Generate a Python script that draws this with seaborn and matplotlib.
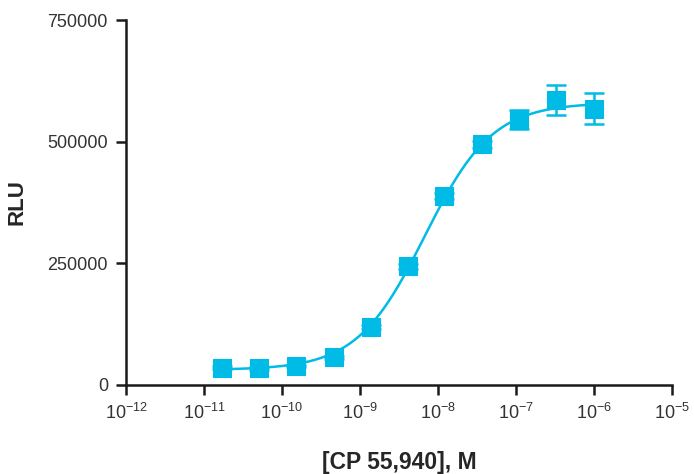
import numpy as np
import pandas as pd
import seaborn as sns
import matplotlib.pyplot as plt
from matplotlib.ticker import FixedLocator, FuncFormatter, NullLocator

# concentrations (M) and responses
conc = [1.7e-11, 5.1e-11, 1.5e-10, 4.6e-10, 1.4e-9, 4.1e-9,
        1.2e-8, 3.7e-8, 1.1e-7, 3.3e-7, 1.0e-6]
rlu = [35000, 34000, 39000, 57000, 119000, 244000,
       388000, 495000, 546000, 585000, 568000]
rlu_err = [3000, 3000, 3000, 3000, 4000, 5000,
           6000, 7000, 19000, 31000, 31000]

# 4PL fit parameters
bottom = 31000
top = 580000
log_ec50 = -8.17
hill = 1.0

xticks = [1e-12, 1e-11, 1e-10, 1e-9, 1e-8, 1e-7, 1e-6, 1e-5]
yticks = [0, 250000, 500000, 750000]

color = "#00BBE6"

sns.set_style("ticks")
plt.rcParams["font.family"] = ["Liberation Sans", "DejaVu Sans"]
plt.rcParams["mathtext.fontset"] = "custom"
plt.rcParams["mathtext.rm"] = "Liberation Sans"
plt.rcParams["mathtext.it"] = "Liberation Sans"

df = pd.DataFrame({"conc": conc, "rlu": rlu, "err": rlu_err})

lx = np.linspace(np.log10(1.5e-11), np.log10(1.1e-6), 300)
fit = pd.DataFrame({
    "conc": 10 ** lx,
    "rlu": bottom + (top - bottom) / (1 + 10 ** ((log_ec50 - lx) * hill)),
})

fig = plt.figure(figsize=(6.94, 4.74), dpi=100)
ax = fig.add_axes([0.1816, 0.1878, 0.7864, 0.77])

sns.lineplot(data=fit, x="conc", y="rlu", color=color, linewidth=1.8, ax=ax)
ax.errorbar(df["conc"], df["rlu"], yerr=df["err"], fmt="none",
            ecolor=color, elinewidth=1.8, capsize=7, capthick=1.8)
sns.scatterplot(data=df, x="conc", y="rlu", marker="s", s=160,
                color=color, edgecolor=color, linewidth=0.8, ax=ax, zorder=3)

ax.set_xscale("log")
ax.set_xlim(1e-12, 1e-5)
ax.set_ylim(0, 750000)
ax.xaxis.set_major_locator(FixedLocator(xticks))
ax.xaxis.set_minor_locator(NullLocator())
ax.xaxis.set_major_formatter(FuncFormatter(
    lambda v, p: r"$\mathregular{10^{%d}}$" % int(round(np.log10(v)))))
ax.set_yticks(yticks)
ax.yaxis.set_major_formatter(FuncFormatter(lambda v, p: "%d" % v))

sns.despine(ax=ax)
for s in ["left", "bottom"]:
    ax.spines[s].set_linewidth(1.8)
    ax.spines[s].set_color("#1a1a1a")
ax.tick_params(axis="both", width=1.8, length=7, color="#1a1a1a",
               labelsize=13, labelcolor="#333333", pad=6)

ax.set_xlabel("[CP 55,940], M", fontsize=16.5, fontweight="bold", labelpad=20)
ax.set_ylabel("RLU", fontsize=16, fontweight="bold", labelpad=14)

fig.savefig("out.png", dpi=100)
